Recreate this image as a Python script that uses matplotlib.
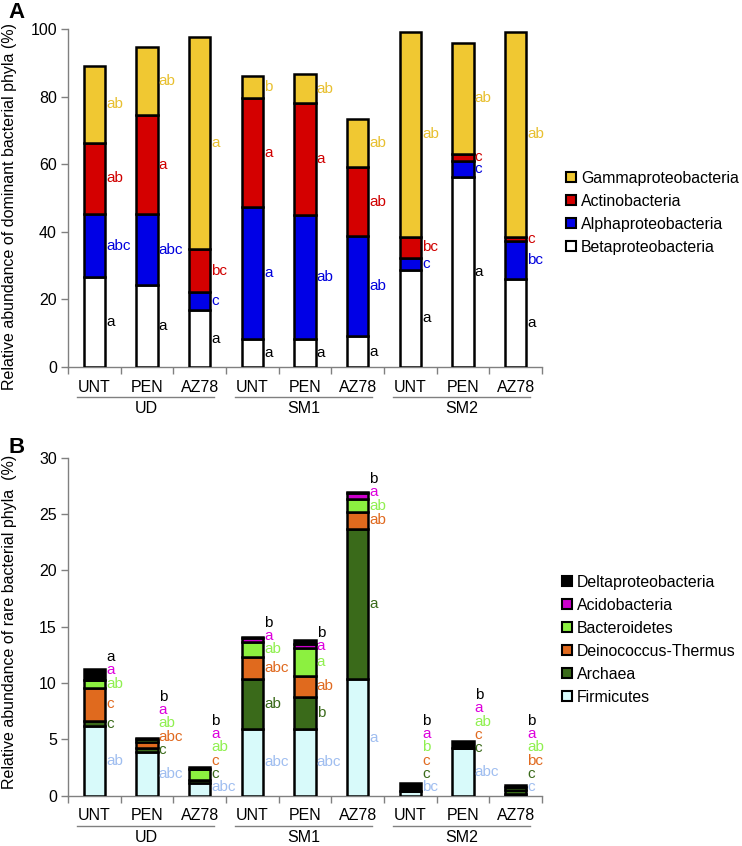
import matplotlib
matplotlib.use('Agg')
import matplotlib.pyplot as plt
import matplotlib.transforms as mtransforms
from matplotlib.patches import Patch
import numpy as np

plt.rcParams['font.family'] = ['Liberation Sans', 'DejaVu Sans']

# ---------------- data ----------------
treatments = ['UNT', 'PEN', 'AZ78', 'UNT', 'PEN', 'AZ78', 'UNT', 'PEN', 'AZ78']
groups = ['UD', 'SM1', 'SM2']

# Panel A: dominant phyla (segment heights, %), bottom -> top
dom_names = ['Betaproteobacteria', 'Alphaproteobacteria', 'Actinobacteria', 'Gammaproteobacteria']
beta = [26.5, 24.2, 16.8, 8.2, 8.2, 9.1, 28.8, 56.3, 26.0]
alpha = [18.8, 21.1, 5.3, 39.1, 36.7, 29.6, 3.5, 4.7, 11.2]
actino = [21.1, 29.2, 12.7, 32.2, 33.1, 20.5, 6.3, 2.0, 1.3]
gamma = [22.6, 20.3, 62.9, 6.7, 8.7, 14.1, 60.6, 33.0, 60.7]

beta_let = ['a', 'a', 'a', 'a', 'a', 'a', 'a', 'a', 'a']
alpha_let = ['abc', 'abc', 'c', 'a', 'ab', 'ab', 'c', 'c', 'bc']
actino_let = ['ab', 'a', 'bc', 'a', 'a', 'ab', 'bc', 'c', 'c']
gamma_let = ['ab', 'ab', 'a', 'b', 'ab', 'ab', 'ab', 'ab', 'ab']

# Panel B: rare phyla (segment heights, %), bottom -> top
rare_names = ['Firmicutes', 'Archaea', 'Deinococcus-Thermus', 'Bacteroidetes',
              'Acidobacteria', 'Deltaproteobacteria']
firm = [6.18, 3.90, 1.15, 5.92, 5.92, 10.33, 0.45, 4.20, 0.15]
arch = [0.45, 0.30, 0.25, 4.41, 2.87, 13.37, 0.00, 0.02, 0.35]
deino = [2.97, 0.55, 0.00, 2.00, 1.83, 1.50, 0.00, 0.00, 0.00]
bact = [0.67, 0.25, 0.95, 1.35, 2.46, 1.10, 0.00, 0.00, 0.25]
acido = [0.03, 0.03, 0.00, 0.35, 0.37, 0.53, 0.00, 0.00, 0.00]
delta = [0.97, 0.07, 0.18, 0.10, 0.33, 0.12, 0.65, 0.65, 0.20]

firm_let = ['ab', 'abc', 'abc', 'abc', 'abc', 'a', 'bc', 'abc', 'c']
arch_let = ['c', 'c', 'c', 'ab', 'b', 'a', 'c', 'c', 'c']
deino_let = ['c', 'abc', 'c', 'abc', 'ab', 'ab', 'c', 'c', 'bc']
bact_let = ['ab', 'ab', 'ab', 'ab', 'a', 'ab', 'b', 'ab', 'ab']
acido_let = ['a', 'a', 'a', 'a', 'a', 'a', 'a', 'a', 'a']
delta_let = ['a', 'b', 'b', 'b', 'b', 'b', 'b', 'b', 'b']

# ---------------- style ----------------
dom_colors = ['#ffffff', '#0000e6', '#d40000', '#f0c832']
dom_text = ['#000000', '#0000dd', '#d00000', '#e8c030']
rare_colors = ['#d8fafa', '#3a6a1a', '#e06a1e', '#8cf040', '#cc00cc', '#000000']
rare_text = ['#a0bef0', '#3a6a1a', '#e06a20', '#90f050', '#dd00dd', '#000000']

GRAY = '#808080'
FS = 11
LET_FS = 11
W, H = 742, 846

fig = plt.figure(figsize=(W / 100, H / 100), dpi=100)
axA = fig.add_axes([68 / W, 1 - 367 / H, 474 / W, 338 / H])
axB = fig.add_axes([68 / W, 1 - 795.7 / H, 474 / W, 338 / H])

x = np.arange(len(treatments))
bar_w = 0.41


def style_axis(ax, ymax, ystep, ylabel, ylab_y):
    ax.set_xlim(-0.5, len(treatments) - 0.5)
    ax.set_ylim(0, ymax)
    for s in ['top', 'right']:
        ax.spines[s].set_visible(False)
    for s in ['left', 'bottom']:
        ax.spines[s].set_color(GRAY)
        ax.spines[s].set_linewidth(1.0)
    ax.set_yticks(np.arange(0, ymax + 0.1, ystep))
    ax.tick_params(axis='y', colors=GRAY, labelcolor='black', labelsize=FS + 0.5,
                   length=5, width=1, direction='out', pad=3)
    ax.set_xticks(x)
    ax.set_xticklabels(treatments)
    ax.tick_params(axis='x', which='major', length=0, labelsize=FS + 0.5, pad=9)
    ax.set_xticks(np.arange(-0.5, len(treatments), 1), minor=True)
    ax.tick_params(axis='x', which='minor', length=5, width=1, colors=GRAY,
                   direction='out')
    ax.set_ylabel(ylabel, fontsize=FS + 0.5)
    ax.yaxis.set_label_coords(-0.108, ylab_y)
    trans = mtransforms.blended_transform_factory(ax.transData, ax.transAxes)
    for g, name in enumerate(groups):
        c = 3 * g + 1
        ax.plot([c - 1.32, c + 1.28], [-0.089, -0.089], color=GRAY, lw=1.0,
                transform=trans, clip_on=False)
        ax.text(c - 0.02, -0.124, name, transform=trans, ha='center', va='center',
                fontsize=FS + 0.5)


# ---------- Panel A ----------
dom_vals = [beta, alpha, actino, gamma]
dom_lets = [beta_let, alpha_let, actino_let, gamma_let]
bottom = np.zeros(len(x))
for vals, col, tcol, lets in zip(dom_vals, dom_colors, dom_text, dom_lets):
    v = np.array(vals)
    axA.bar(x, v, bar_w, bottom=bottom, color=col, edgecolor='black', linewidth=1.8,
            zorder=3)
    for i in range(len(x)):
        axA.text(x[i] + 0.22, bottom[i] + v[i] / 2, lets[i], color=tcol,
                 fontsize=LET_FS, ha='left', va='center', zorder=4)
    bottom += v

style_axis(axA, 100, 20, 'Relative abundance of dominant bacterial phyla (%)', 0.475)

legend_kw = dict(loc='upper left', frameon=False, fontsize=FS + 0.4, handlelength=0.6,
                 handleheight=0.6, handletextpad=0.35, labelspacing=0.5, borderpad=0,
                 borderaxespad=0)
handlesA = [Patch(facecolor=c, edgecolor='black', linewidth=1.5, label=n)
            for n, c in zip(dom_names, dom_colors)][::-1]
fig.legend(handles=handlesA, bbox_to_anchor=(566 / W, 1 - 171 / H), **legend_kw)

# ---------- Panel B ----------
rare_vals = [firm, arch, deino, bact, acido, delta]
rare_lets = [firm_let, arch_let, deino_let, bact_let, acido_let, delta_let]
bottom = np.zeros(len(x))
last_y = np.full(len(x), -np.inf)
for vals, col, tcol, lets in zip(rare_vals, rare_colors, rare_text, rare_lets):
    v = np.array(vals)
    axB.bar(x, v, bar_w, bottom=bottom, color=col, edgecolor='black', linewidth=1.8,
            zorder=3)
    for i in range(len(x)):
        y = max(bottom[i] + v[i] / 2, 0.74, last_y[i] + 1.18)
        last_y[i] = y
        axB.text(x[i] + 0.22, y, lets[i], color=tcol, fontsize=LET_FS,
                 ha='left', va='center', zorder=4)
    bottom += v

style_axis(axB, 30, 5, 'Relative abundance of rare bacterial phyla  (%)', 0.514)

handlesB = [Patch(facecolor=c, edgecolor='black', linewidth=1.5, label=n)
            for n, c in zip(rare_names, rare_colors)][::-1]
fig.legend(handles=handlesB, bbox_to_anchor=(562 / W, 1 - 575 / H), **legend_kw)

fig.text(8 / W, 1 - 12 / H, 'A', fontsize=16, fontweight='bold', va='center', ha='left')
fig.text(8 / W, 1 - 447 / H, 'B', fontsize=16, fontweight='bold', va='center', ha='left')

fig.savefig('out.png', dpi=100)
